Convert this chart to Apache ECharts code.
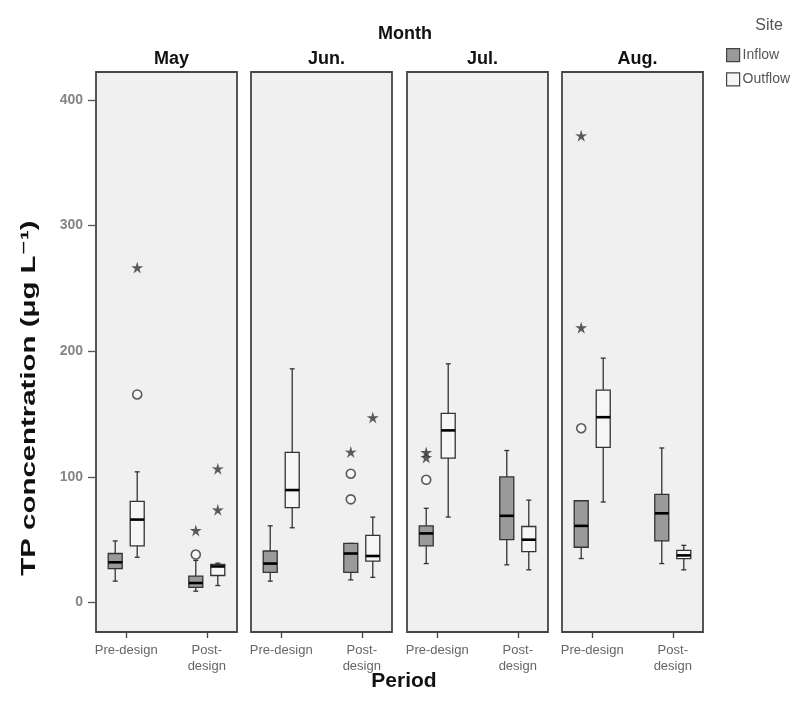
<!DOCTYPE html>
<html>
<head>
<meta charset="utf-8">
<script src="https://cdn.jsdelivr.net/npm/echarts@6/dist/echarts.min.js"></script>
<style>html,body{margin:0;padding:0;background:#fff;}#chart{width:799px;height:713px;}</style>
</head>
<body>
<div id="chart"></div>
<script>
// ---------------- data ----------------
const months = ['May', 'Jun.', 'Jul.', 'Aug.'];
const periods = ['Pre-design', 'Post-design'];
const sites = ['Inflow', 'Outflow'];
const yTicks = [0, 100, 200, 300, 400];
// box statistics [min, Q1, median, Q3, max], order: month x period
const inflowBoxes = [
  [17, 27, 32, 39, 49],      // May pre
  [9, 12, 15.5, 21, 33.5],   // May post
  [17, 24, 31, 41, 61],      // Jun pre
  [18, 24, 39, 47, 47],      // Jun post
  [31, 45, 55, 61, 75],      // Jul pre
  [30, 50, 69, 100, 121],    // Jul post
  [35, 44, 61, 81, 81],      // Aug pre
  [31, 49, 71, 86, 123]      // Aug post
];
const outflowBoxes = [
  [36, 45, 66, 80.5, 104],
  [13.5, 21.5, 28.7, 30.3, 31.3],
  [59.5, 75.5, 89.5, 119.5, 186],
  [20, 33, 37, 53.5, 68],
  [68, 115, 137, 150.5, 190],
  [26, 40.5, 50, 60.5, 81.5],
  [80, 123.5, 147.5, 169, 194.5],
  [26, 35, 37.5, 41.5, 45.5]
];
// outliers [monthIndex, periodIndex, value]
const inflowCircles = [[0, 1, 38.2], [1, 1, 102.5], [1, 1, 82.1], [2, 0, 97.7], [3, 0, 138.7]];
const inflowStars = [[0, 1, 57.4], [1, 1, 119.8], [2, 0, 115.5], [2, 0, 119.5], [3, 0, 371.6], [3, 0, 218.8]];
const outflowCircles = [[0, 0, 165.6]];
const outflowStars = [[0, 0, 266.6], [0, 1, 106.5], [0, 1, 73.8], [1, 1, 147.2]];

// ---------------- layout ----------------
const FONT = '"Liberation Sans", Arial, "DejaVu Sans", sans-serif';
const panelLeft = [96, 251, 407, 562];
const panelWidth = 141;
const frameTop = 72, frameBottom = 713 - 632;
const dataTop = 100, dataBottom = 713 - 602.5;
const slotCount = 7;
const periodSlot = [1, 5];
const slots = Array.from({length: slotCount}, (_, i) => {
  const p = periodSlot.indexOf(i);
  return p >= 0 ? periods[p] : ('_' + i);
});
const siteOffset = [-11, 11];
const siteFill = ['#9a9a9a', '#f6f6f6'];
const stroke = '#333';

function starPath() {
  let d = '';
  for (let k = 0; k < 10; k++) {
    const r = k % 2 === 0 ? 10 : 3.6;
    const a = (-90 + k * 36) * Math.PI / 180;
    d += (k === 0 ? 'M' : 'L') + (r * Math.cos(a)).toFixed(2) + ',' + (r * Math.sin(a)).toFixed(2) + ' ';
  }
  return 'path://' + d + 'Z';
}
const STAR = starPath();

function boxRender(offset, fill) {
  return function (params, api) {
    const slot = api.value(0);
    const cx = api.coord([slot, 0])[0] + offset;
    const p = [1, 2, 3, 4, 5].map(d => api.coord([slot, api.value(d)])[1]);
    const hw = 7, cap = 2.5, lw = 1.3;
    return {
      type: 'group',
      children: [
        {type: 'line', shape: {x1: cx, y1: p[0], x2: cx, y2: p[1]}, style: {stroke, lineWidth: lw}},
        {type: 'line', shape: {x1: cx, y1: p[3], x2: cx, y2: p[4]}, style: {stroke, lineWidth: lw}},
        {type: 'line', shape: {x1: cx - cap, y1: p[0], x2: cx + cap, y2: p[0]}, style: {stroke, lineWidth: lw}},
        {type: 'line', shape: {x1: cx - cap, y1: p[4], x2: cx + cap, y2: p[4]}, style: {stroke, lineWidth: lw}},
        {type: 'rect', shape: {x: cx - hw, y: p[3], width: 2 * hw, height: Math.max(p[1] - p[3], 1)}, style: {fill, stroke, lineWidth: lw}},
        {type: 'line', shape: {x1: cx - hw, y1: p[2], x2: cx + hw, y2: p[2]}, style: {stroke: '#000', lineWidth: 2.6}}
      ]
    };
  };
}

const grid = [], xAxis = [], yAxis = [], series = [], title = [];
months.forEach((m, i) => {
  // frame grid (index 2i)
  grid.push({left: panelLeft[i], width: panelWidth, top: frameTop, bottom: frameBottom,
    show: true, backgroundColor: '#f0f0f0', borderColor: '#454545', borderWidth: 1.8});
  // data grid (index 2i+1)
  grid.push({left: panelLeft[i], width: panelWidth, top: dataTop, bottom: dataBottom, show: false});
  xAxis.push({
    type: 'category', gridIndex: 2 * i, data: slots, boundaryGap: true,
    axisLine: {show: false},
    axisTick: {show: true, alignWithLabel: true, length: 6, interval: (idx) => periodSlot.includes(idx),
      lineStyle: {color: '#444', width: 1.3}},
    axisLabel: {interval: (idx) => periodSlot.includes(idx), color: '#666', fontSize: 13, fontFamily: FONT,
      margin: 10, lineHeight: 16,
      formatter: (v) => v === 'Post-design' ? 'Post-\ndesign' : v},
    splitLine: {show: false}
  });
  xAxis.push({type: 'category', gridIndex: 2 * i + 1, data: slots, boundaryGap: true, show: false});
  yAxis.push({type: 'value', gridIndex: 2 * i, show: false, min: 0, max: 1, splitLine: {show: false}});
  yAxis.push({
    type: 'value', gridIndex: 2 * i + 1, min: yTicks[0], max: yTicks[yTicks.length - 1],
    interval: yTicks[1] - yTicks[0], show: i === 0,
    axisLine: {show: false},
    axisTick: {show: true, length: 8, lineStyle: {color: '#555', width: 1.3}},
    axisLabel: {color: '#858585', fontSize: 14, fontWeight: 'bold', fontFamily: FONT, margin: 13},
    splitLine: {show: false}
  });
  title.push({text: m, left: panelLeft[i] + panelWidth / 2, top: 45, textAlign: 'center',
    textStyle: {fontSize: 18, fontWeight: 'bold', color: '#111', fontFamily: FONT}});

  [inflowBoxes, outflowBoxes].forEach((boxes, s) => {
    series.push({
      type: 'custom', name: sites[s], xAxisIndex: 2 * i + 1, yAxisIndex: 2 * i + 1, clip: false,
      itemStyle: {color: siteFill[s], borderColor: stroke},
      renderItem: boxRender(siteOffset[s], siteFill[s]),
      encode: {x: 0, y: [1, 2, 3, 4, 5]},
      data: periods.map((p, k) => [periodSlot[k]].concat(boxes[i * 2 + k])),
      z: 3
    });
  });
  [[inflowCircles, 0, 'circle'], [inflowStars, 0, 'star'], [outflowCircles, 1, 'circle'], [outflowStars, 1, 'star']]
    .forEach(([arr, s, kind]) => {
      const d = arr.filter(o => o[0] === i).map(o => [periodSlot[o[1]], o[2]]);
      series.push({
        type: 'scatter', name: sites[s] + ' ' + kind, xAxisIndex: 2 * i + 1, yAxisIndex: 2 * i + 1,
        symbol: kind === 'circle' ? 'circle' : STAR,
        symbolSize: kind === 'circle' ? 9 : 12,
        symbolOffset: [siteOffset[s], 0],
        itemStyle: kind === 'circle' ? {color: '#fafafa', borderColor: '#333', borderWidth: 1.6}
                                     : {color: '#333', borderWidth: 0},
        data: d, z: 4, silent: true
      });
    });
});

title.push({text: 'Month', left: 400, top: 20, textAlign: 'center',
  textStyle: {fontSize: 18, fontWeight: 'bold', color: '#111', fontFamily: FONT}});
title.push({text: 'Period', left: 399, top: 666, textAlign: 'center',
  textStyle: {fontSize: 21, fontWeight: 'bold', color: '#111', fontFamily: FONT}});
title.push({text: 'Site', left: 764, top: 13, textAlign: 'center',
  textStyle: {fontSize: 16, fontWeight: 'normal', color: '#555', fontFamily: FONT}});

const chart = echarts.init(document.getElementById('chart'), null, {renderer: 'canvas'});
chart.setOption({
  backgroundColor: '#fff',
  animation: false,
  title,
  legend: {
    orient: 'vertical', left: 721, top: 43, itemWidth: 13, itemHeight: 13, itemGap: 10,
    icon: 'rect',
    data: [
      {name: 'Inflow', itemStyle: {color: siteFill[0], borderColor: '#444', borderWidth: 1.2}},
      {name: 'Outflow', itemStyle: {color: siteFill[1], borderColor: '#444', borderWidth: 1.2}}
    ],
    textStyle: {fontSize: 14, color: '#555', fontFamily: FONT, padding: [0, 0, 0, -2]},
    selectedMode: false
  },
  graphic: [{
    type: 'text', x: 29, y: 398, rotation: Math.PI / 2, scaleX: 1.4,
    style: {text: 'TP concentration (μg L⁻¹)', font: 'bold 21px ' + FONT, fill: '#111',
      align: 'center', verticalAlign: 'middle'}
  }],
  grid, xAxis, yAxis, series
});
</script>
</body>
</html>
